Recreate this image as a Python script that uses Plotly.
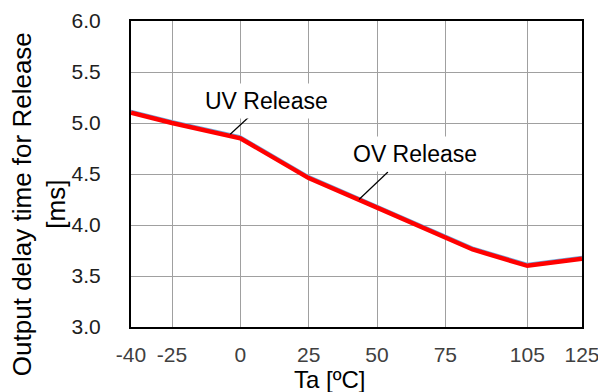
import plotly.graph_objects as go

# Data
temps = [-40, -25, 0, 25, 50, 75, 85, 105, 125]
ov_release = [5.10, 5.00, 4.85, 4.46, 4.17, 3.88, 3.76, 3.60, 3.67]
uv_release = [5.12, 5.02, 4.87, 4.48, 4.19, 3.90, 3.78, 3.62, 3.69]
x_ticks = [-40, -25, 0, 25, 50, 75, 105, 125]
y_ticks = [3.0, 3.5, 4.0, 4.5, 5.0, 5.5, 6.0]
y_tick_text = ["3.0", "3.5", "4.0", "4.5", "5.0", "5.5", "6.0"]

FONT = "Liberation Sans, Arial, sans-serif"

fig = go.Figure()
fig.add_trace(go.Scatter(x=temps, y=uv_release, mode="lines", name="UV Release",
                         line=dict(color="#6FA8DC", width=2)))
fig.add_trace(go.Scatter(x=temps, y=ov_release, mode="lines", name="OV Release",
                         line=dict(color="#FF0000", width=4.5)))

# page body has an 8px default margin, so the figure is sized/offset to compensate
fig.update_layout(
    width=598, height=384,
    margin=dict(l=123, r=24, t=13, b=65, autoexpand=False),
    paper_bgcolor="white", plot_bgcolor="white",
    showlegend=False,
    font=dict(family=FONT, color="#000000"),
)
fig.update_xaxes(range=[-40, 125], tickvals=x_ticks, ticktext=[str(v) for v in x_ticks],
                 showgrid=True, gridcolor="#a0a0a0", gridwidth=1.3,
                 showline=True, linecolor="black", linewidth=2, mirror=True,
                 zeroline=False, ticks="", ticklabelstandoff=8, automargin=False,
                 tickfont=dict(size=21, color="#404040", family=FONT))
fig.update_yaxes(range=[3.0, 6.0], tickvals=y_ticks, ticktext=y_tick_text,
                 showgrid=True, gridcolor="#a0a0a0", gridwidth=1.3,
                 showline=True, linecolor="black", linewidth=2, mirror=True,
                 zeroline=False, ticks="", ticklabelstandoff=24, automargin=False,
                 tickfont=dict(size=21, color="#202020", family=FONT))

# Series labels with leader lines
fig.add_annotation(x=9.6, y=5.22, text="UV Release", showarrow=False,
                   font=dict(size=23, color="black", family=FONT),
                   bgcolor="white", borderpad=4)
fig.add_shape(type="line", x0=4.8, y0=5.10, x1=-3.7, y1=4.89,
              line=dict(color="black", width=1.2))
fig.add_annotation(x=64.0, y=4.70, text="OV Release", showarrow=False,
                   font=dict(size=23, color="black", family=FONT),
                   bgcolor="white", borderpad=4)
fig.add_shape(type="line", x0=54.0, y0=4.52, x1=43.4, y1=4.25,
              line=dict(color="black", width=1.2))

# Axis titles
fig.add_annotation(xref="paper", yref="paper", x=0.44, y=-0.17,
                   xanchor="center", yanchor="middle", showarrow=False,
                   text="Ta [ºC]", font=dict(size=24, color="black", family=FONT))
fig.add_annotation(xref="paper", yref="paper", x=-0.205, y=0.40,
                   xanchor="center", yanchor="middle", showarrow=False,
                   textangle=-90, align="center",
                   text="Output delay time for Release<br>[ms]",
                   font=dict(size=26, color="black", family=FONT))

fig.write_html("out.html")
